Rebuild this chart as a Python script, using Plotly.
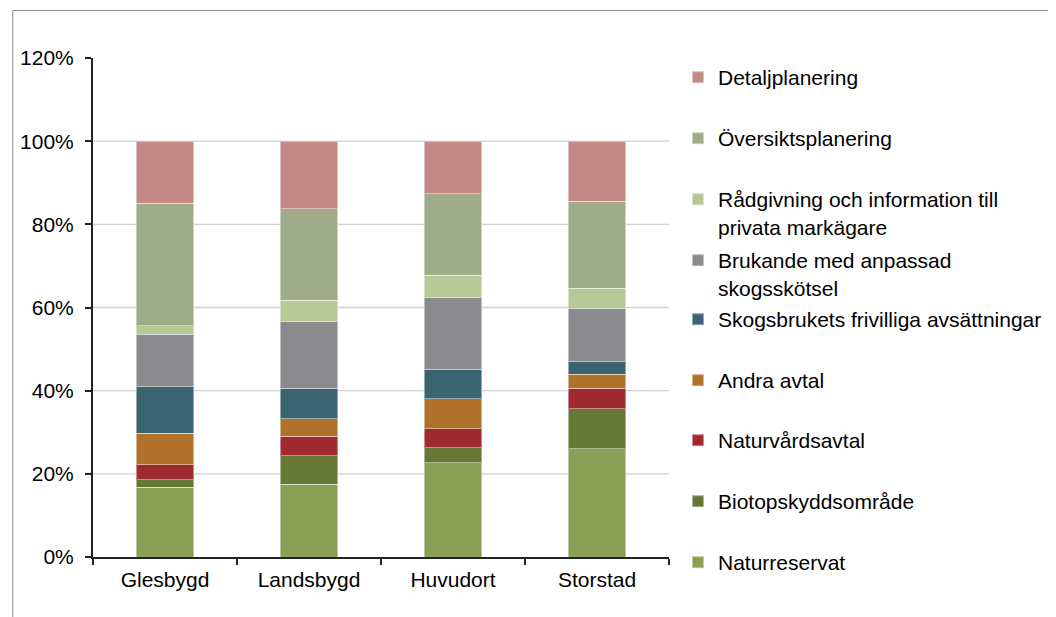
import plotly.graph_objects as go

# ---------------- data ----------------
categories = ["Glesbygd", "Landsbygd", "Huvudort", "Storstad"]

naturreservat = [0.168, 0.175, 0.227, 0.260]
biotopskyddsomrade = [0.018, 0.068, 0.036, 0.097]
naturvardsavtal = [0.036, 0.047, 0.045, 0.049]
andra_avtal = [0.076, 0.042, 0.073, 0.033]
skogsbrukets_frivilliga = [0.111, 0.074, 0.071, 0.031]
brukande = [0.127, 0.160, 0.171, 0.127]
radgivning = [0.020, 0.052, 0.055, 0.049]
oversiktsplanering = [0.295, 0.219, 0.196, 0.210]
detaljplanering = [0.149, 0.163, 0.126, 0.144]

series_names = [
    "Naturreservat",
    "Biotopskyddsområde",
    "Naturvårdsavtal",
    "Andra avtal",
    "Skogsbrukets frivilliga avsättningar",
    "Brukande med anpassad<br>skogsskötsel",
    "Rådgivning och information till<br>privata markägare",
    "Översiktsplanering",
    "Detaljplanering",
]
series_values = [
    naturreservat,
    biotopskyddsomrade,
    naturvardsavtal,
    andra_avtal,
    skogsbrukets_frivilliga,
    brukande,
    radgivning,
    oversiktsplanering,
    detaljplanering,
]

y_tick_values = [0, 0.2, 0.4, 0.6, 0.8, 1.0, 1.2]
y_tick_labels = ["0%", "20%", "40%", "60%", "80%", "100%", "120%"]

# ---------------- styles ----------------
colors = [
    "#8C9F57",  # Naturreservat
    "#677735",  # Biotopskyddsområde
    "#9E2A2E",  # Naturvårdsavtal
    "#B0712A",  # Andra avtal
    "#3A6470",  # Skogsbrukets frivilliga
    "#8B8B8D",  # Brukande
    "#B7C896",  # Rådgivning
    "#A0AB88",  # Översiktsplanering
    "#C48A88",  # Detaljplanering
]

W, H = 1056, 617
OFF = 8  # page body margin offset
L, R, T, B = 91 - OFF, 669 - OFF, 58 - OFF, 557 - OFF  # plot area in figure px
pw, ph = R - L, B - T

def px_x(x):
    return (x - OFF - L) / pw

def px_y(y):
    return (B - (y - OFF)) / ph

FONT = "Liberation Sans, Arial, sans-serif"
FS = 21

# legend first-line centres (page px), bottom series first
legend_line_y = [563, 502, 441, 381, 320, 261, 200, 139, 78]
legend_left_px = 678

fig = go.Figure()
layout_legends = {}
for i, (name, vals, col) in enumerate(zip(series_names, series_values, colors)):
    key = "legend" if i == 0 else f"legend{i + 1}"
    fig.add_trace(
        go.Bar(
            x=categories,
            y=vals,
            name=name,
            marker=dict(color=col, line=dict(color="rgba(255,255,255,0.45)", width=1)),
            width=0.4,
            legend=key,
            hoverinfo="skip",
        )
    )
    layout_legends[key] = dict(
        x=px_x(legend_left_px),
        y=px_y(legend_line_y[i] - 21),
        xanchor="left",
        yanchor="top",
        valign="top",
        bgcolor="rgba(0,0,0,0)",
        font=dict(family=FONT, size=FS, color="#000000"),
        tracegroupgap=0,
        itemsizing="constant",
    )

# gridlines (skip 0 and top)
shapes = []
for v in y_tick_values[1:-1]:
    shapes.append(
        dict(type="line", xref="paper", yref="y", x0=0, x1=1, y0=v, y1=v,
             line=dict(color="#D0D0D0", width=1.3), layer="below")
    )
# outer chart frame
shapes.append(
    dict(type="rect", xref="paper", yref="paper",
         x0=px_x(10.5), x1=px_x(1050.5), y0=px_y(640), y1=px_y(10.5),
         line=dict(color="#8A8A8A", width=1), fillcolor="rgba(0,0,0,0)", layer="below")
)

fig.update_layout(
    width=W,
    height=H,
    barmode="stack",
    paper_bgcolor="white",
    plot_bgcolor="white",
    margin=dict(l=L, r=W - R, t=T, b=H - B, pad=0),
    font=dict(family=FONT, size=FS, color="#000000"),
    shapes=shapes,
    showlegend=True,
    **layout_legends,
)

fig.update_yaxes(
    range=[0, 1.2],
    tickvals=y_tick_values,
    ticktext=y_tick_labels,
    showgrid=False,
    zeroline=False,
    showline=True,
    linecolor="#222222",
    linewidth=2,
    ticks="outside",
    ticklen=6,
    tickcolor="#222222",
    tickwidth=1.5,
    ticklabelstandoff=7,
    tickfont=dict(family=FONT, size=FS, color="#000000"),
)
fig.update_xaxes(
    showgrid=False,
    showline=True,
    linecolor="#222222",
    linewidth=2,
    ticks="outside",
    tickson="boundaries",
    ticklen=6,
    tickcolor="#222222",
    tickwidth=1.5,
    ticklabelstandoff=3,
    tickfont=dict(family=FONT, size=FS, color="#000000"),
)

fig.write_html("out.html")
